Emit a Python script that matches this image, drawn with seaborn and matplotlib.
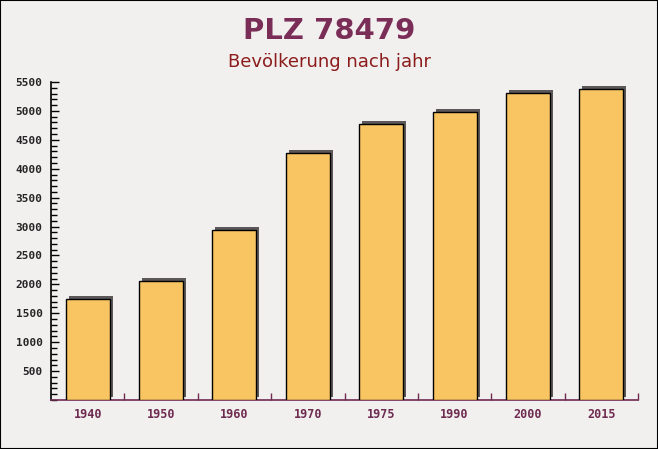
import matplotlib
matplotlib.use("Agg")
import matplotlib.pyplot as plt
import matplotlib.transforms as mtransforms
from matplotlib.patches import Rectangle
from matplotlib.ticker import MultipleLocator, FixedLocator
import seaborn as sns
import pandas as pd

years = ["1940", "1950", "1960", "1970", "1975", "1990", "2000", "2015"]
population = [1745, 2055, 2935, 4270, 4770, 4985, 5305, 5380]
title = "PLZ 78479"
subtitle = "Bevölkerung nach jahr"

df = pd.DataFrame({"jahr": years, "einwohner": population})

sns.set_style("white")
plt.rcParams["font.family"] = ["DejaVu Sans"]

fig = plt.figure(figsize=(6.58, 4.49), dpi=100)
fig.patch.set_facecolor("#f2efef")
ax = fig.add_axes([51 / 658, 1 - 400 / 449, (638 - 51) / 658, (400 - 82) / 449])
ax.set_facecolor("none")

sns.barplot(data=df, x="jahr", y="einwohner", color="#f9c462", width=0.6,
            edgecolor="black", linewidth=1.0, saturation=1, ax=ax, zorder=3)

# drop shadows
off = mtransforms.ScaledTranslation(3 / 100, 3 / 100, fig.dpi_scale_trans)
for p in list(ax.patches):
    sh = Rectangle(p.get_xy(), p.get_width(), p.get_height(),
                   facecolor="#5c5758", edgecolor="none",
                   transform=ax.transData + off, zorder=2)
    ax.add_patch(sh)

ax.set_ylim(0, 5500)
ax.set_xlim(-0.5, len(years) - 0.5)
ax.set_xlabel("")
ax.set_ylabel("")

ax.yaxis.set_minor_locator(MultipleLocator(100))
ax.set_yticks([v for v in range(500, 5501, 500)])
ax.tick_params(axis="y", which="major", direction="in", length=6, width=1,
               color="black", labelsize=8, pad=6, left=True)
ax.tick_params(axis="y", which="minor", direction="in", length=4, width=1,
               color="black", left=True)

ax.xaxis.set_minor_locator(FixedLocator([i + 0.5 for i in range(len(years))]))
ax.tick_params(axis="x", which="major", length=0, labelsize=8.5, pad=6,
               labelcolor="#6e2b50")
ax.tick_params(axis="x", which="minor", direction="in", length=5, width=1,
               color="#6e2b50", bottom=True)

for lab in ax.get_yticklabels() + ax.get_xticklabels():
    lab.set_family("DejaVu Sans Mono")
    lab.set_fontweight("bold")

for s in ["top", "right"]:
    ax.spines[s].set_visible(False)
ax.spines["left"].set_color("black")
ax.spines["left"].set_linewidth(1.2)
ax.spines["bottom"].set_color("#6e2b50")
ax.spines["bottom"].set_linewidth(1.2)

fig.text(0.5, 1 - 31 / 449, title, ha="center", va="center", fontsize=21,
         fontweight="bold", color="#7a2d56")
fig.text(0.5, 1 - 62 / 449, subtitle, ha="center", va="center", fontsize=13,
         color="#8c1c1c")

border = Rectangle((0, 0), 1, 1, transform=fig.transFigure, fill=False,
                   edgecolor="black", linewidth=1.5)
fig.patches.append(border)

fig.savefig("out.png", dpi=100, facecolor=fig.get_facecolor())
